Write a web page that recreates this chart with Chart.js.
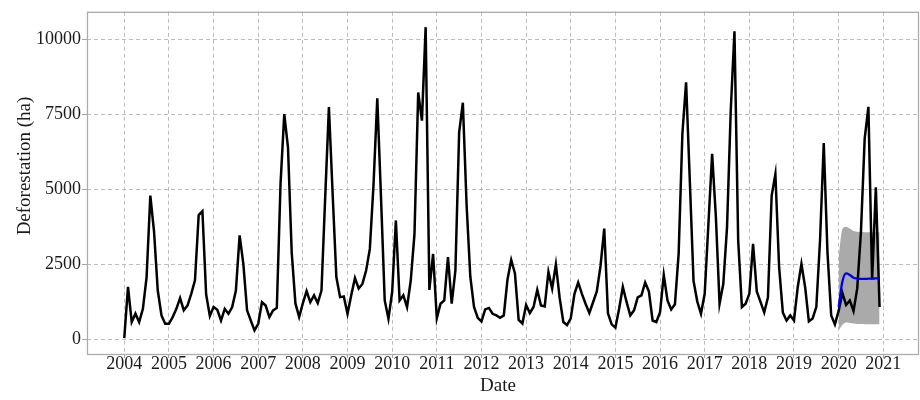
<!DOCTYPE html>
<html>
<head>
<meta charset="utf-8">
<script src="https://cdn.jsdelivr.net/npm/chart.js@4.4.1/dist/chart.umd.min.js"></script>
<style>
  html, body { margin: 0; padding: 0; background: #ffffff; }
  canvas { display: block; }
</style>
</head>
<body>
<canvas id="chart" width="920" height="400"></canvas>
<script>
// Monthly deforestation (ha), January 2004 to December 2020
const firstYear = 2004;
const deforestation = [
  // 2004
  40, 1750, 580, 860, 580, 1020, 2080, 4800, 3600, 1630, 800, 520,
  // 2005
  520, 745, 1020, 1380, 970, 1130, 1520, 1970, 4150, 4280, 1500, 780,
  // 2006
  1080, 990, 630, 1020, 855, 1080, 1630, 3470, 2520, 970, 630, 300,
  // 2007
  520, 1240, 1130, 745, 970, 1050, 5200, 7520, 6410, 2900, 1200, 745,
  // 2008
  1210, 1610, 1240, 1470, 1210, 1630, 4740, 7750, 4860, 2080, 1410, 1430,
  // 2009
  855, 1470, 2050, 1700, 1850, 2300, 3020, 5190, 8050, 4740, 1300, 690,
  // 2010
  1580, 3970, 1300, 1470, 1080, 1970, 3520, 8240, 7300, 10420, 1650, 2850,
  // 2011
  700, 1190, 1300, 2750, 1190, 2300, 6900, 7900, 4500, 2100, 1080, 720,
  // 2012
  600, 1000, 1050, 855, 800, 720, 800, 2000, 2650, 2200, 650, 530,
  // 2013
  1150, 880, 1080, 1650, 1130, 1100, 2250, 1700, 2500, 1400, 580, 480,
  // 2014
  700, 1520, 1900, 1520, 1180, 880, 1240, 1600, 2450, 3700, 870, 500,
  // 2015
  390, 1020, 1750, 1250, 800, 970, 1400, 1470, 1900, 1600, 630, 580,
  // 2016
  910, 2150, 1300, 1000, 1170, 2860, 6850, 8580, 5300, 1950, 1270, 855,
  // 2017
  1520, 3850, 6190, 4100, 1190, 1850, 3740, 7630, 10280, 3300, 1080, 1190,
  // 2018
  1520, 3190, 1600, 1250, 900, 1400, 4800, 5520, 2410, 900, 630, 800,
  // 2019
  630, 1740, 2520, 1740, 600, 700, 1080, 3300, 6550, 2900, 800, 500,
  // 2020
  950, 1550, 1150, 1300, 950, 1700, 3600, 6700, 7760, 2000, 5080, 1080
];

// Forecast for 2020 with its interval
const forecastYear = 2020;
const forecastMean  = [1080, 1920, 2200, 2150, 2060, 2030, 2020, 2020, 2025, 2030, 2035, 2040];
const forecastLower = [300, 480, 560, 550, 530, 515, 510, 505, 505, 505, 505, 505];
const forecastUpper = [2750, 3680, 3760, 3700, 3620, 3590, 3580, 3575, 3575, 3575, 3575, 3575];

// Axis ticks
const yearTicks = [2004, 2005, 2006, 2007, 2008, 2009, 2010, 2011, 2012, 2013, 2014, 2015, 2016, 2017, 2018, 2019, 2020, 2021];
const valueTicks = [0, 2500, 5000, 7500, 10000];

const xTitle = 'Date';
const yTitle = 'Deforestation (ha)';

// month index -> decimal year
const monthly = (start, values) => values.map((v, i) => ({ x: start + i / 12, y: v }));

const SERIF = '"Liberation Serif", "Times New Roman", serif';
const TEXT = '#1a1a1a';
const GRID = '#bdbdbd';

const panelBorder = {
  id: 'panelBorder',
  afterDatasetsDraw(chart) {
    const { ctx, chartArea: a } = chart;
    ctx.save();
    ctx.strokeStyle = '#ababab';
    ctx.lineWidth = 1.3;
    ctx.strokeRect(a.left + 0.5, a.top + 0.5, a.right - a.left - 1, a.bottom - a.top - 1);
    ctx.restore();
  }
};

const axisTitles = {
  id: 'axisTitles',
  afterDraw(chart) {
    const { ctx } = chart;
    ctx.save();
    ctx.fillStyle = TEXT;
    ctx.font = '19px ' + SERIF;
    ctx.textAlign = 'center';
    ctx.textBaseline = 'middle';
    ctx.fillText(xTitle, 498, 386);
    ctx.translate(25.5, 166);
    ctx.rotate(-Math.PI / 2);
    ctx.fillText(yTitle, 0, 0);
    ctx.restore();
  }
};

new Chart(document.getElementById('chart'), {
  type: 'line',
  data: {
    datasets: [
      {
        label: 'Forecast',
        data: monthly(forecastYear, forecastMean),
        borderColor: '#0000f0',
        borderWidth: 2.3,
        pointRadius: 0,
        cubicInterpolationMode: 'monotone',
        fill: false,
        order: 0
      },
      {
        label: 'Observed',
        data: monthly(firstYear, deforestation),
        borderColor: '#000000',
        borderWidth: 2.5,
        pointRadius: 0,
        tension: 0,
        fill: false,
        order: 1
      },
      {
        label: 'Upper',
        data: monthly(forecastYear, forecastUpper),
        borderWidth: 0,
        borderColor: 'rgba(0,0,0,0)',
        backgroundColor: '#aaaaaa',
        pointRadius: 0,
        cubicInterpolationMode: 'monotone',
        fill: '+1',
        order: 2
      },
      {
        label: 'Lower',
        data: monthly(forecastYear, forecastLower),
        borderWidth: 0,
        borderColor: 'rgba(0,0,0,0)',
        pointRadius: 0,
        cubicInterpolationMode: 'monotone',
        fill: false,
        order: 3
      }
    ]
  },
  options: {
    responsive: false,
    animation: false,
    devicePixelRatio: 1,
    layout: { padding: { top: 11, right: 1, bottom: 0, left: 0 } },
    plugins: {
      legend: { display: false },
      tooltip: { enabled: false },
      title: { display: false }
    },
    scales: {
      x: {
        type: 'linear',
        min: 2003.165,
        max: 2021.8,
        afterBuildTicks: (scale) => { scale.ticks = yearTicks.map(v => ({ value: v })); },
        afterFit: (scale) => { scale.height = 45; },
        ticks: {
          autoSkip: false,
          maxRotation: 0,
          padding: -3,
          color: TEXT,
          font: { family: SERIF, size: 18, lineHeight: 1 },
          callback: (v) => String(v)
        },
        grid: { color: GRID, lineWidth: 1, tickLength: 3, tickColor: '#a6a6a6' },
        border: { display: false, dash: [4, 3] }
      },
      y: {
        type: 'linear',
        min: -521,
        max: 10933,
        afterBuildTicks: (scale) => { scale.ticks = valueTicks.map(v => ({ value: v })); },
        afterFit: (scale) => { scale.width = 87; },
        ticks: {
          padding: 1,
          color: TEXT,
          font: { family: SERIF, size: 18 },
          callback: (v) => String(v)
        },
        grid: { color: GRID, lineWidth: 1, tickLength: 5, tickColor: '#a6a6a6' },
        border: { display: false, dash: [4, 3] }
      }
    }
  },
  plugins: [panelBorder, axisTitles]
});
</script>
</body>
</html>
